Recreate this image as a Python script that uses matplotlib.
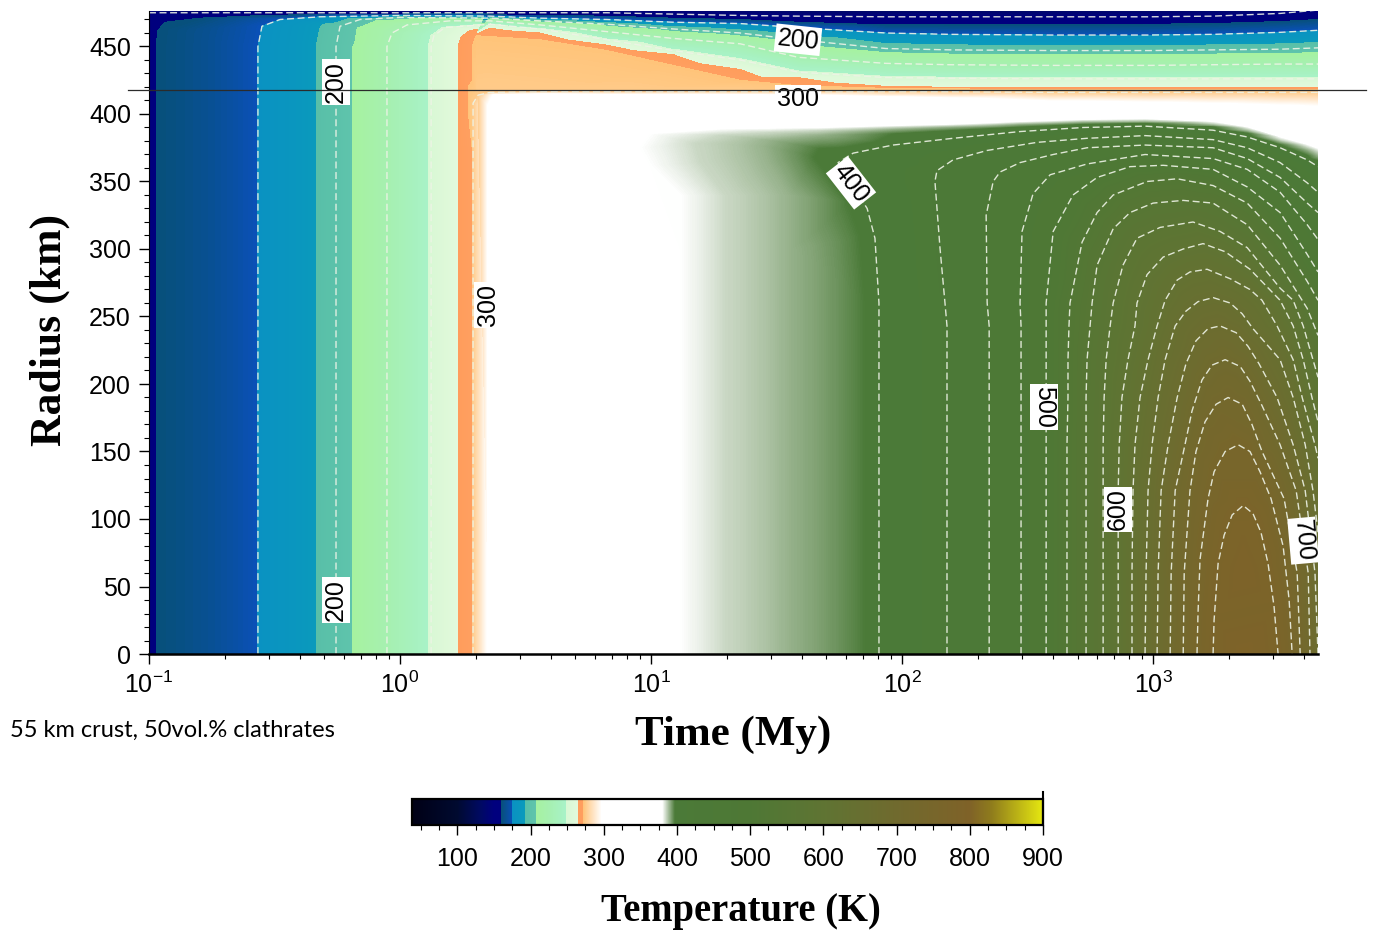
import numpy as np
import matplotlib
matplotlib.use("Agg")
import matplotlib.pyplot as plt
import matplotlib.tri as mtri
from matplotlib.colors import LinearSegmentedColormap, Normalize
from matplotlib.cm import ScalarMappable
from matplotlib.ticker import MultipleLocator, LogLocator, NullFormatter

plt.rcParams['font.family'] = 'Liberation Sans'
plt.rcParams['mathtext.default'] = 'regular'

# Isotherms: log10(time / My) and radius (km)
# Times at which the crust isotherms were read
C = [0.359, 0.558, 0.825, 1.088, 1.355, 1.586, 1.936, 2.191, 2.590, 2.988, 3.239, 3.506, 3.657]
# Times at which the top of the hot interior was read
D = [1.964, 2.203, 2.470, 2.721, 2.968, 3.239, 3.375, 3.506, 3.614, 3.657]
# Radii at which the vertical parts were read
R_LOW = [0, 75, 150, 225, 300, 375, 450]
R_ROWS = [0, 60, 121, 155, 190, 218, 243]

I150_T = [-1.0, -0.598, -0.319, 0.0] + C
I150_R = [475, 475, 475, 475, 475, 475, 475, 474, 473, 472.5, 472, 472, 472, 472, 472.5, 474.5, 477]
I160_T = [-0.972] * 7 + [-0.964, -0.936, -0.797, -0.398, 0.0] + C
I160_R = R_LOW + [462, 468, 471, 473.5, 474, 473.5, 473, 472.5, 471, 470, 468, 466, 466, 466, 466.5, 467, 468.5, 470]
I175_T = [-0.566] * 7 + [-0.550, -0.478, -0.319, 0.0] + C
I175_R = R_LOW + [465, 470, 472, 473, 472.5, 471, 470, 468, 467, 464, 460, 459, 458.5, 458.5, 459, 460.5, 462]
I200_T = [-0.255] * 7 + [-0.239, -0.159, 0.0] + C
I200_R = R_LOW + [465, 470, 471.5, 471, 469, 466.5, 463, 460, 455, 448.5, 447.5, 447, 447, 447.5, 448, 449]
I225_T = [-0.052] * 7 + [-0.032, 0.028, 0.199] + C
I225_R = R_LOW + [460, 466, 469, 469, 466, 461, 456, 452, 442, 437.5, 436.5, 436, 436, 436.5, 437, 437]
I250_T = [0.124] * 7 + [0.135, 0.179] + C
I250_R = R_LOW + [458, 464, 466.5, 463, 455, 447, 440, 431, 427, 426.5, 426, 426, 426, 426, 426]
I265_T = [0.231] * 7 + [0.243, 0.279] + C
I265_R = R_LOW + [457, 462, 463.5, 460, 451, 444, 433, 427, 420.5, 419.8, 419.6, 419.6, 419.6, 419.6, 419.6]
I272_T = [0.287] * 7 + [0.303] + C
I272_R = R_LOW + [458, 461, 455, 447, 436, 425, 421, 419, 418.6, 418.2, 418.2, 418.2, 418.2, 418.2]
I275_T = [0.291] * 6 + [0.291, 0.311] + C
I275_R = R_LOW[:6] + [408, 414, 416, 416.5, 416.5, 416.5, 416.5, 416.5, 416.5, 416.5, 416, 416, 416, 416, 416]
I300_T = [0.355] * 6 + [0.355, 0.378] + C[1:]
I300_R = R_LOW[:6] + [405, 414, 414.5, 414, 414, 413.8, 413.5, 412, 411, 408.5, 407.5, 406.5, 405, 404]
I380_T = [1.116] * 7 + [1.116, 1.116, 0.996, 0.956, 0.996, 1.275, 1.474, 1.673] + D
I380_R = R_ROWS + [300, 340, 362, 375, 385, 388.5, 389, 389.5, 391, 392, 394, 395.5, 396, 394, 390, 382.5, 377, 374]
I385_T = [1.295] * 7 + [1.295, 1.295, 1.195, 1.175, 1.275, 1.474, 1.673] + D
I385_R = R_ROWS + [300, 340, 365, 378, 384, 386, 387.5, 389.8, 391, 393, 394.5, 395, 392.5, 388.5, 380.5, 375, 371.5]
I390_T = [1.554] * 7 + [1.554, 1.554, 1.474, 1.454, 1.474, 1.673] + D
I390_R = R_ROWS + [300, 340, 365, 376, 380, 384, 388.3, 390, 392, 393.5, 393.8, 391.3, 387, 379, 373, 368.5]
I397_T = [1.853] * 7 + [1.853, 1.833, 1.785, 1.693, 1.653, 1.673] + D
I397_R = R_ROWS + [260, 310, 335, 358, 368, 374, 385, 387.5, 390, 392, 392.8, 390.3, 385.5, 377, 369, 365]
I400_T = [1.908] * 7 + [1.908, 1.892, 1.861, 1.793, 1.745, 1.805] + D
I400_R = R_ROWS + [260, 308, 330, 350, 364, 371, 377, 382, 387, 390, 391, 388, 383, 375, 366, 361]
I425_T = [2.179] * 7 + [2.171, 2.151, 2.131, 2.139, 2.203, 2.339, 2.538, 2.737, 2.968, 3.239, 3.375, 3.506, 3.614, 3.657]
I425_R = R_ROWS + [260, 301, 350, 358, 366, 373, 379, 382, 384, 381, 375, 364, 349, 342]
I450_T = [2.347] * 7 + [2.339, 2.335, 2.363, 2.390, 2.470, 2.602, 2.737, 2.968, 3.239, 3.375, 3.506, 3.614, 3.657]
I450_R = R_ROWS + [260, 325, 350, 357, 364, 370, 375, 377, 375, 367, 353, 334, 327]
I475_T = [2.474] * 7 + [2.470, 2.478, 2.522, 2.590, 2.737, 2.968, 3.239, 3.375, 3.506, 3.614, 3.657]
I475_R = R_ROWS + [260, 313, 341, 355, 363, 370, 367, 359, 342, 318, 307]
I500_T = [2.574] * 7 + [2.574, 2.602, 2.681, 2.777, 2.908, 3.040, 3.239, 3.375, 3.506, 3.614, 3.657]
I500_R = R_ROWS + [260, 313, 340, 353, 361, 362, 359, 346, 327, 296, 283]
I525_T = [2.657, 2.657, 2.657, 2.657, 2.661, 2.661, 2.665, 2.669, 2.701, 2.717, 2.777, 2.841, 2.976, 3.096, 3.239, 3.375, 3.506, 3.614, 3.657]
I525_R = R_ROWS + [260, 290, 305, 327, 340, 350, 352, 347, 334, 308, 276, 262]
I550_T = [2.733] * 5 + [2.737, 2.749, 2.757, 2.777, 2.841, 2.908, 3.000, 3.120, 3.239, 3.375, 3.506, 3.614, 3.657]
I550_R = R_ROWS + [260, 288, 315, 327, 334, 336, 334, 318, 288, 256, 236]
I575_T = [2.801, 2.801, 2.801, 2.801, 2.805, 2.813, 2.829, 2.841, 2.880, 2.936, 3.028, 3.159, 3.267, 3.375, 3.506, 3.558, 3.598, 3.637, 3.657]
I575_R = R_ROWS + [260, 288, 308, 316, 320, 313, 301, 271, 262, 243, 218, 205]
I600_T = [2.861, 2.861, 2.861, 2.865, 2.876, 2.900, 2.928, 2.936, 2.976, 3.040, 3.120, 3.199, 3.287, 3.386, 3.506, 3.558, 3.598, 3.633, 3.657]
I600_R = R_ROWS + [260, 281, 294, 300, 304, 298, 285, 262, 243, 218, 190, 172]
I625_T = [2.916, 2.916, 2.920, 2.928, 2.948, 2.980, 3.016, 3.048, 3.096, 3.147, 3.215, 3.307, 3.386, 3.434, 3.494, 3.558, 3.594, 3.645, 3.657]
I625_R = R_ROWS + [262, 277, 283, 285, 278, 270, 262, 243, 218, 190, 155, 145]
I650_T = [2.968, 2.972, 2.980, 2.996, 3.020, 3.048, 3.088, 3.131, 3.179, 3.239, 3.307, 3.355, 3.398, 3.506, 3.558, 3.606, 3.637, 3.657]
I650_R = R_ROWS + [254, 261, 264, 260, 252, 241, 218, 190, 155, 121, 90]
I675_T = [3.016, 3.020, 3.032, 3.060, 3.096, 3.131, 3.171, 3.219, 3.267, 3.331, 3.378, 3.422, 3.494, 3.558, 3.606, 3.645, 3.657]
I675_R = [0, 60, 121, 155, 190, 215, 232, 241, 243, 238, 228, 215, 190, 155, 121, 60, 0]
I700_T = [3.068, 3.072, 3.088, 3.127, 3.155, 3.195, 3.235, 3.287, 3.347, 3.386, 3.434, 3.506, 3.570, 3.618, 3.625]
I700_R = [0, 60, 121, 155, 180, 203, 214, 218, 213, 202, 184, 155, 121, 60, 0]
I725_T = [3.120, 3.124, 3.147, 3.171, 3.207, 3.251, 3.299, 3.355, 3.394, 3.434, 3.522, 3.574, 3.586]
I725_R = [0, 60, 121, 150, 172, 185, 190, 185, 170, 150, 115, 60, 0]
I750_T = [3.175, 3.179, 3.187, 3.219, 3.243, 3.287, 3.339, 3.386, 3.426, 3.470, 3.518, 3.542, 3.554]
I750_R = [0, 30, 70, 115, 135, 150, 155, 150, 135, 115, 80, 40, 0]
I775_T = [3.239, 3.243, 3.259, 3.283, 3.315, 3.359, 3.398, 3.430, 3.458, 3.482, 3.498]
I775_R = [0, 25, 67, 88, 103, 110, 104, 90, 67, 35, 0]

# Values at the edges and at the temperature peak, which no isotherm reaches
LEFT_EDGE_T = [-1.0] * 7
LEFT_EDGE_R = R_LOW
LEFT_EDGE_K = [150] * 7
TOP_EDGE_T = [-1.0, 0.0, 0.359, 1.594, 3.657]
TOP_EDGE_R = [480, 480, 480, 480, 480]
TOP_EDGE_K = [120, 120, 120, 120, 130]
PEAK_T = [3.359, 3.359, 3.359]
PEAK_R = [0, 60, 85]
PEAK_K = [795, 788, 782]

DRAWN = [(150, I150_T, I150_R), (175, I175_T, I175_R), (200, I200_T, I200_R),
         (225, I225_T, I225_R), (250, I250_T, I250_R), (275, I275_T, I275_R),
         (400, I400_T, I400_R), (425, I425_T, I425_R), (450, I450_T, I450_R),
         (475, I475_T, I475_R), (500, I500_T, I500_R), (525, I525_T, I525_R),
         (550, I550_T, I550_R), (575, I575_T, I575_R), (600, I600_T, I600_R),
         (625, I625_T, I625_R), (650, I650_T, I650_R), (675, I675_T, I675_R),
         (700, I700_T, I700_R), (725, I725_T, I725_R), (750, I750_T, I750_R),
         (775, I775_T, I775_R)]
FILL_ONLY = [(160, I160_T, I160_R), (265, I265_T, I265_R), (272, I272_T, I272_R),
             (300, I300_T, I300_R), (380, I380_T, I380_R), (385, I385_T, I385_R),
             (390, I390_T, I390_R), (397, I397_T, I397_R)]

# Contour labels: text, time (My), radius (km), rotation
CLABEL_TEXT = ['200', '200', '300', '200', '300', '400', '500', '600', '700']
CLABEL_TIME = [0.556, 0.556, 2.24, 38.5, 38.5, 62.6, 368, 726, 3963]
CLABEL_RAD = [424, 40, 258.5, 455, 411, 349, 183, 107, 84]
CLABEL_ROT = [90, 90, 90, -6, 0, -52, -90, 90, -85]

CB_TICKS = [100, 200, 300, 400, 500, 600, 700, 800, 900]
T_MIN, T_MAX = 38, 900
STOPS = [(38, '#000015'), (100, '#000a30'), (130, '#000a60'), (150, '#00007e'), (160, '#00007e'),
         (160, '#07507a'), (175, '#0a50b8'), (175, '#0a92c2'), (192, '#0a9abc'),
         (192, '#58bfa8'), (207, '#5fc4ac'), (207, '#a6f2a0'), (225, '#a6f0b0'), (248, '#a8f2c8'),
         (248, '#d8f8d4'), (265, '#e2f9dc'), (265, '#ff9d5c'), (272, '#ff9f60'), (272, '#ffc47a'),
         (285, '#ffe2c0'), (297, '#ffffff'), (380, '#ffffff'), (397, '#4b7a38'), (500, '#4e7835'),
         (600, '#5f7433'), (700, '#706a2e'), (800, '#7f6228'), (830, '#8f7c1c'), (900, '#e6e810')]

cmap = LinearSegmentedColormap.from_list(
    'temp', [((t - T_MIN) / (T_MAX - T_MIN), c) for t, c in STOPS], N=4096)
norm = Normalize(T_MIN, T_MAX)

W, H = 1375, 933
fig = plt.figure(figsize=(W / 100, H / 100), dpi=100)
ax = fig.add_axes([149 / W, 1 - 654 / H, 1169 / W, 643 / H])

# Scattered field from the isotherm vertices
lt, rr, kk = list(LEFT_EDGE_T), list(LEFT_EDGE_R), list(LEFT_EDGE_K)
lt += TOP_EDGE_T + PEAK_T
rr += TOP_EDGE_R + PEAK_R
kk += TOP_EDGE_K + PEAK_K
for level, a, b in DRAWN + FILL_ONLY:
    lt += a
    rr += b
    kk += [level] * len(a)
pts = np.column_stack([lt, rr, kk])
_, keep = np.unique(np.round(pts[:, :2], 4), axis=0, return_index=True)
pts = pts[np.sort(keep)]
fill_levels = np.concatenate([np.arange(110, 272, 1), np.arange(272, 300, 0.25),
                              np.arange(300, 380, 5), np.arange(380, 400, 0.1),
                              np.arange(400, 800, 1)])

# The early columns and the later crust are triangulated apart, each in a space
# that stretches its thin bands, so the triangles follow the isotherms
for mask, start, gain in ((pts[:, 0] <= 0.36, 452, 6), (pts[:, 0] >= 0.30, 375, 9)):
    p = pts[mask]
    shape = mtri.Triangulation(p[:, 0] * 251, p[:, 1] * 1.35 + gain * np.maximum(p[:, 1] - start, 0))
    tri = mtri.Triangulation(10 ** p[:, 0], p[:, 1], shape.triangles)
    ax.tricontourf(tri, p[:, 2], levels=fill_levels, cmap=cmap, norm=norm, extend='both')

for level, a, b in DRAWN:
    ax.plot(10 ** np.array(a), b, color='#eef3e6', lw=1.0, alpha=0.9, dashes=(5, 2.6))

for s, t, r, rot in zip(CLABEL_TEXT, CLABEL_TIME, CLABEL_RAD, CLABEL_ROT):
    ax.text(t, r, s, rotation=rot, ha='center', va='center', fontsize=18, color='black', zorder=5,
            bbox=dict(facecolor='white', edgecolor='none', pad=1.5))

ax.set_xscale('log')
ax.set_xlim(0.1, 10 ** 3.657)
ax.set_ylim(0, 643 / 1.35)
ax.xaxis.set_major_locator(LogLocator(base=10, numticks=8))
ax.xaxis.set_minor_locator(LogLocator(base=10, subs=np.arange(2, 10), numticks=12))
ax.xaxis.set_minor_formatter(NullFormatter())
ax.yaxis.set_major_locator(MultipleLocator(50))
ax.yaxis.set_minor_locator(MultipleLocator(10))
ax.tick_params(axis='both', which='major', length=7, width=1.0, labelsize=18, pad=6)
ax.tick_params(axis='both', which='minor', length=3.5, width=0.8)
for side in ('top', 'right'):
    ax.spines[side].set_visible(False)
ax.spines['bottom'].set_linewidth(1.8)
ax.spines['left'].set_linewidth(0.8)

ax.axhline(418, xmin=-0.018, xmax=1.041, color='#2b2b2b', lw=0.9, clip_on=False, zorder=6)

fig.text(733 / W, 1 - 735 / H, 'Time (My)', family='Liberation Serif', weight='bold',
         fontsize=31, ha='center', va='center')
fig.text(50 / W, 1 - 330 / H, 'Radius (km)', family='Liberation Serif', weight='bold',
         fontsize=31.5, rotation=90, ha='center', va='center')
fig.text(741 / W, 1 - 911 / H, 'Temperature (K)', family='Liberation Serif', weight='bold',
         fontsize=27.8, ha='center', va='center')
fig.text(10 / W, 1 - 730 / H, '55 km crust, 50vol.% clathrates', family='Lato',
         fontsize=17, ha='left', va='center')

cax = fig.add_axes([412 / W, 1 - 825 / H, 631 / W, 26 / H])
cb = fig.colorbar(ScalarMappable(norm=norm, cmap=cmap), cax=cax, orientation='horizontal')
cb.set_ticks(CB_TICKS)
cb.ax.xaxis.set_minor_locator(MultipleLocator(25))
cb.ax.tick_params(axis='x', which='major', length=7, width=1.0, labelsize=18, pad=9)
cb.ax.tick_params(axis='x', which='minor', length=3.5, width=0.8)
cb.outline.set_linewidth(1.6)
cax.axvline(900, ymin=0, ymax=1.28, color='black', lw=1.5, clip_on=False)

fig.savefig('out.png', dpi=100)
